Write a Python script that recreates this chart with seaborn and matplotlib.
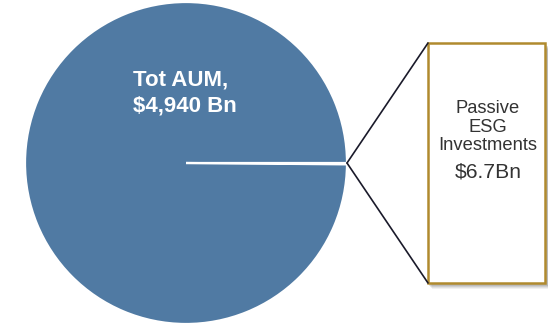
import matplotlib
matplotlib.use("Agg")
import matplotlib.pyplot as plt
import seaborn as sns

categories = ["Tot AUM", "Passive ESG Investments"]
values_bn = [4940, 6.7]
labels = ["Tot AUM,\n$4,940 Bn", "Passive\nESG\nInvestments"]
value_label = "$6.7Bn"

sns.set_theme(style="white")
plt.rcParams['font.family'] = ['Liberation Sans', 'DejaVu Sans']

W, H = 548, 328
fig = plt.figure(figsize=(W / 100, H / 100), dpi=100)
ax = fig.add_axes([0, 0, 1, 1])

pie_color = "#507AA3"
cx, cy, r = 186, 163, 161
ax.pie([values_bn[1], values_bn[0]], colors=[pie_color, pie_color],
       startangle=0, center=(cx, cy), radius=r, counterclock=True,
       wedgeprops={'edgecolor': 'white', 'linewidth': 1.6})
ax.set_xlim(0, W)
ax.set_ylim(H, 0)
ax.set_aspect('equal')
ax.axis('off')

# breakout box as a bar
bx0, bx1, by0, by1 = 428, 545, 43, 283
bw, bh = bx1 - bx0, by1 - by0
for i, a in enumerate([0.08, 0.10, 0.13, 0.16]):
    off = 5 - i
    ax.bar(bx0 + bw / 2 + off, bh, width=bw + 2, bottom=by0 + off + 1,
           color="#555555", alpha=a, linewidth=0, zorder=2)
ax.bar(bx0 + bw / 2, bh, width=bw, bottom=by0, color="white",
       edgecolor="#B08A2E", linewidth=1.8, zorder=3)

# connector lines
ex = cx + r
ax.plot([ex, bx0], [cy, by0], color="#1A1A2A", lw=1.2, zorder=4)
ax.plot([ex, bx0], [cy, by1], color="#1A1A2A", lw=1.2, zorder=4)

ax.text(133, 93, labels[0], color="white", fontsize=16, fontweight="bold",
        ha="left", va="center", linespacing=1.35, zorder=5)
ax.text(488, 127, labels[1], color="#333333", fontsize=13.2,
        ha="center", va="center", linespacing=1.15, zorder=5)
ax.text(488, 172, value_label, color="#333333", fontsize=15.2,
        ha="center", va="center", zorder=5)

fig.savefig("out.png", dpi=100)
